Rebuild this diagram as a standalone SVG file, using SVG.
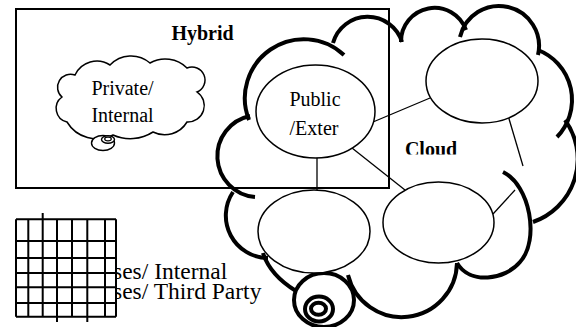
<svg xmlns="http://www.w3.org/2000/svg" width="576" height="327" viewBox="0 0 576 327">
<style>
.t{font-family:"Liberation Serif","Times New Roman",serif;fill:#000}
.b{font-weight:bold}
.thick{fill:none;stroke:#000;stroke-width:4;stroke-linecap:butt}
.node{fill:#fff;stroke:#000;stroke-width:1.5}
.ln{stroke:#000;stroke-width:1.3;fill:none}
.grid{stroke:#000;stroke-width:2;fill:none}
</style>
<defs>
<clipPath id="cl"><rect x="380" y="130" width="100" height="24.5"/></clipPath>
</defs>
<rect width="576" height="327" fill="#fff"/>

<g id="legend">
<text class="t" x="113" y="279" font-size="23.5">ses/ Internal</text>
<text class="t" x="113" y="299" font-size="23.5">ses/ Third Party</text>
<rect x="16" y="219.3" width="100" height="97.4" fill="#fff"/>
<path class="grid" d="M16,219.3H116M16,241H116M16,258H116M16,273H116M16,287.3H116M16,303H116M16,316.7H116M16,219.3V316.7M28.3,219.3V316.7M42.7,213V316.7M57,219.3V322M72,219.3V316.7M87.3,219.3V322M105,219.3V316.7M116,219.3V316.7"/>
</g>

<g id="big-cloud">
<path class="thick" d="M249,120 A59,59 0 0 1 344,55"/>
<path class="thick" d="M333,43 A36,36 0 0 1 402,42"/>
<path class="thick" d="M401,42 A33.5,33.5 0 0 1 466,30"/>
<path class="thick" d="M460,37 A40,40 0 0 1 538,55"/>
<path class="thick" d="M538,50 A53.5,53.5 0 0 1 557,137"/>
<path class="thick" d="M565,120 A66.6,66.6 0 0 1 533,222"/>
<path class="thick" d="M503,172 C530,185 540,240 520,262 C505,280 470,285 457,263"/>
<path class="thick" d="M348,275 A55.3,55.3 0 0 0 457,263"/>
<path class="thick" d="M250,116 A41,41 0 0 0 255,197"/>
<path class="thick" d="M233,192 A42.4,42.4 0 0 0 268,258"/>
<path class="thick" d="M263,253 Q270,275 296,291"/>
<ellipse class="thick" cx="324" cy="300" rx="30" ry="27" fill="#fff"/>
<ellipse class="thick" cx="319" cy="309" rx="14" ry="12.5"/>
<ellipse class="thick" cx="318.5" cy="308.7" rx="7.5" ry="6"/>
</g>

<g id="hybrid">
<rect x="16" y="9" width="373" height="179" fill="none" stroke="#000" stroke-width="2"/>
<text class="t b" x="202.5" y="40" font-size="20" text-anchor="middle">Hybrid</text>
</g>

<g id="private">
<path d="M75,75 A24,24 0 0 1 110,65 A29,29 0 0 1 150,63 A31,31 0 0 1 187,68 A13,13 0 0 1 197,92 A16.4,16.4 0 0 1 187,122 A26,26 0 0 1 153,132 A42,42 0 0 1 113,135 A35,35 0 0 1 67,122 A14,14 0 0 1 62,97 A13,13 0 0 1 75,75 Z" fill="#fff" stroke="#000" stroke-width="1.5"/>
<ellipse cx="103" cy="143" rx="11.5" ry="7.5" fill="#fff" stroke="#000" stroke-width="1.4"/>
<ellipse cx="108" cy="139.5" rx="6.5" ry="3.7" fill="#fff" stroke="#000" stroke-width="1.4"/>
<ellipse cx="108" cy="139" rx="3.3" ry="1.8" fill="none" stroke="#000" stroke-width="1.2"/>
<text class="t" x="122.5" y="95" font-size="20" text-anchor="middle">Private/</text>
<text class="t" x="122.5" y="122" font-size="20" text-anchor="middle">Internal</text>
</g>

<g id="connectors">
<path class="ln" d="M373,122 L430,98"/>
<path class="ln" d="M352,148 L405,190"/>
<path class="ln" d="M317,158 L317,190"/>
<path class="ln" d="M507,112 L523,166"/>
<path class="ln" d="M493,214 L515,190"/>
</g>

<g id="public">
<ellipse class="node" cx="315.5" cy="111.5" rx="59.5" ry="46.5"/>
<text class="t" x="315" y="106" font-size="20" text-anchor="middle">Public</text>
<text class="t" x="314" y="135" font-size="20" text-anchor="middle">/Exter</text>
</g>
<g id="node-top-right">
<ellipse class="node" cx="482" cy="81" rx="56" ry="42"/>
</g>
<g id="node-bottom-left">
<ellipse class="node" cx="314" cy="231.5" rx="56" ry="41.5"/>
</g>
<g id="node-bottom-right">
<ellipse class="node" cx="438.5" cy="222.5" rx="55.5" ry="40.5"/>
</g>

<g id="cloud-label">
<text class="t b" x="431" y="156" font-size="20" text-anchor="middle" clip-path="url(#cl)">Cloud</text>
</g>
</svg>
